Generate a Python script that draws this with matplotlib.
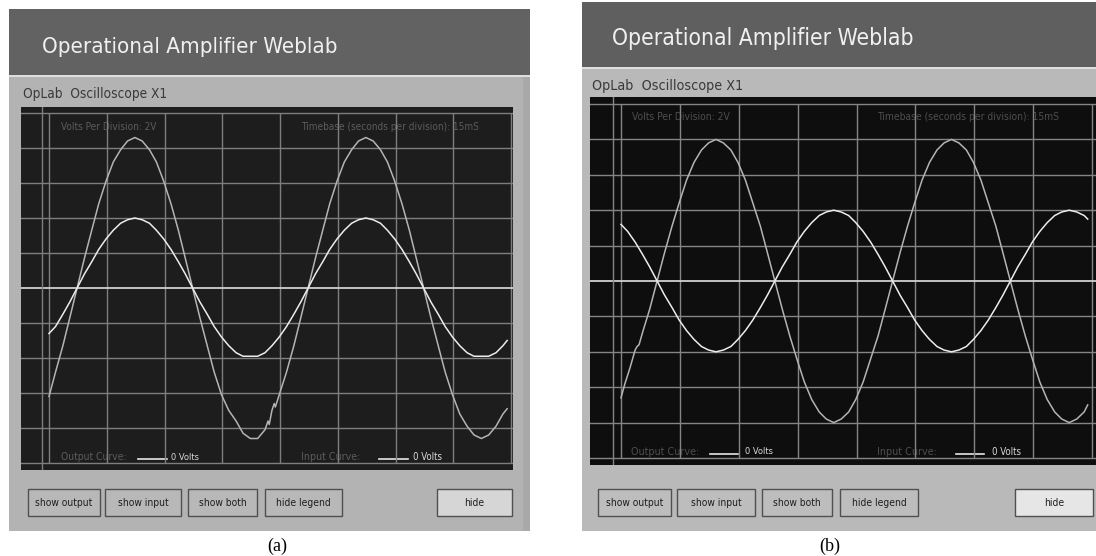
import os
import numpy as np
import matplotlib
matplotlib.use('Agg')
import matplotlib.pyplot as plt
from matplotlib.patches import Rectangle
from matplotlib import font_manager
from matplotlib.font_manager import FontProperties

# Oscilloscope traces (time in ms, 15 ms/div; volts, 2 V/div)

# (a) non-inverting amplifier
ta_in = [0, 1.7, 3.6, 5.4, 7.3, 9.2, 11.1, 12.9, 14.8, 16.7, 18.6, 20.4, 22.3, 24.2,
         26.1, 27.9, 29.8, 31.7, 33.6, 35.4, 37.3, 39.2, 41.1, 42.9, 44.8, 46.7, 48.6,
         50.4, 52.3, 54.2, 56.1, 57.9, 59.8, 61.7, 63.6, 65.4, 67.3, 69.2, 71.1, 72.9,
         74.8, 76.7, 78.6, 80.4, 82.3, 84.2, 86.1, 87.9, 89.8, 91.7, 93.6, 95.4, 97.3,
         99.2, 101.1, 102.9, 104.8, 106.7, 108.6, 110.4, 112.3, 114.2, 116.1, 117.9, 119.0]
va_in = [-2.6, -2.2, -1.5, -0.8, 0.0, 0.8, 1.5, 2.2, 2.8, 3.3, 3.7, 3.9, 4.0, 3.9,
         3.7, 3.3, 2.8, 2.2, 1.5, 0.8, 0.0, -0.8, -1.5, -2.2, -2.8, -3.3, -3.7,
         -3.9, -3.9, -3.9, -3.7, -3.3, -2.8, -2.2, -1.5, -0.8, 0.0, 0.8, 1.5, 2.2,
         2.8, 3.3, 3.7, 3.9, 4.0, 3.9, 3.7, 3.3, 2.8, 2.2, 1.5, 0.8, 0.0,
         -0.8, -1.5, -2.2, -2.8, -3.3, -3.7, -3.9, -3.9, -3.9, -3.7, -3.3, -3.0]
ta_out = [0, 1.7, 3.6, 5.4, 7.3, 9.2, 11.1, 12.9, 14.8, 16.7, 18.6, 20.4, 22.3, 24.2,
          26.1, 27.9, 29.8, 31.7, 33.6, 35.4, 37.3, 39.2, 41.1, 42.9, 44.8, 46.7, 48.6,
          50.4, 52.3, 54.2, 56.1, 56.9, 57.2, 57.9, 58.5, 58.8, 59.8, 61.7, 63.6, 65.4,
          67.3, 69.2, 71.1, 72.9, 74.8, 76.7, 78.6, 80.4, 82.3, 84.2, 86.1, 87.9, 89.8,
          91.7, 93.6, 95.4, 97.3, 99.2, 101.1, 102.9, 104.8, 106.7, 108.6, 110.4, 112.3,
          114.2, 116.1, 117.9, 119.0]
va_out = [-6.2, -4.8, -3.3, -1.7, 0.0, 1.7, 3.3, 4.8, 6.1, 7.2, 7.9, 8.4, 8.6, 8.4,
          7.9, 7.2, 6.1, 4.8, 3.3, 1.7, 0.0, -1.7, -3.3, -4.8, -6.1, -7.0, -7.6,
          -8.3, -8.6, -8.6, -8.1, -7.6, -7.8, -7.0, -6.6, -6.8, -6.1, -4.8, -3.3, -1.7,
          0.0, 1.7, 3.3, 4.8, 6.1, 7.2, 7.9, 8.4, 8.6, 8.4, 7.9, 7.2, 6.1,
          4.8, 3.3, 1.7, 0.0, -1.7, -3.3, -4.8, -6.1, -7.2, -7.9, -8.4, -8.6,
          -8.4, -7.9, -7.2, -6.9]

# (b) inverting amplifier
tb_in = [0, 1.7, 3.6, 5.5, 7.3, 9.2, 11.1, 13.0, 14.8, 16.7, 18.6, 20.5, 22.3, 24.2,
         26.1, 28.0, 29.8, 31.7, 33.6, 35.5, 37.3, 39.2, 41.1, 43.0, 44.8, 46.7, 48.6,
         50.5, 52.3, 54.2, 56.1, 58.0, 59.8, 61.7, 63.6, 65.5, 67.3, 69.2, 71.1, 73.0,
         74.8, 76.7, 78.6, 80.5, 82.3, 84.2, 86.1, 88.0, 89.8, 91.7, 93.6, 95.5, 97.3,
         99.2, 101.1, 103.0, 104.8, 106.7, 108.6, 110.5, 112.3, 114.2, 116.1, 118.0, 118.9]
vb_in = [3.2, 2.8, 2.2, 1.5, 0.8, 0.0, -0.8, -1.5, -2.2, -2.8, -3.3, -3.7, -3.9, -4.0,
         -3.9, -3.7, -3.3, -2.8, -2.2, -1.5, -0.8, 0.0, 0.8, 1.5, 2.2, 2.8, 3.3,
         3.7, 3.9, 4.0, 3.9, 3.7, 3.3, 2.8, 2.2, 1.5, 0.8, 0.0, -0.8, -1.5,
         -2.2, -2.8, -3.3, -3.7, -3.9, -4.0, -3.9, -3.7, -3.3, -2.8, -2.2, -1.5, -0.8,
         0.0, 0.8, 1.5, 2.2, 2.8, 3.3, 3.7, 3.9, 4.0, 3.9, 3.7, 3.5]
tb_out = [0, 1.0, 2.3, 3.6, 4.1, 4.6, 5.5, 7.3, 9.2, 11.1, 13.0, 14.8, 16.7, 18.6, 20.5,
          22.3, 24.2, 26.1, 28.0, 29.8, 31.7, 33.6, 35.5, 37.3, 39.2, 41.1, 43.0, 44.8,
          46.7, 48.6, 50.5, 52.3, 54.2, 56.1, 58.0, 59.8, 61.7, 63.6, 65.5, 67.3, 69.2,
          71.1, 73.0, 74.8, 76.7, 78.6, 80.5, 82.3, 84.2, 86.1, 88.0, 89.8, 91.7, 93.6,
          95.5, 97.3, 99.2, 101.1, 103.0, 104.8, 106.7, 108.6, 110.5, 112.3, 114.2,
          116.1, 118.0, 118.9]
vb_out = [-6.6, -5.8, -4.9, -3.9, -3.7, -3.6, -2.9, -1.6, 0.0, 1.6, 3.1, 4.4, 5.7, 6.7,
          7.4, 7.8, 8.0, 7.8, 7.4, 6.7, 5.7, 4.4, 3.1, 1.6, 0.0, -1.6, -3.1, -4.4,
          -5.7, -6.7, -7.4, -7.8, -8.0, -7.8, -7.4, -6.7, -5.7, -4.4, -3.1, -1.6, 0.0,
          1.6, 3.1, 4.4, 5.7, 6.7, 7.4, 7.8, 8.0, 7.8, 7.4, 6.7, 5.7, 4.4,
          3.1, 1.6, 0.0, -1.6, -3.1, -4.4, -5.7, -6.7, -7.4, -7.8, -8.0,
          -7.8, -7.4, -7.0]

title = "Operational Amplifier Weblab"
subtitle = "OpLab  Oscilloscope X1"
vpd_text = "Volts Per Division: 2V"
tb_text = "Timebase (seconds per division): 15mS"
out_lbl = "Output Curve:"
in_lbl = "Input Curve:"
zero_lbl = "0 Volts"
buttons = ["show output", "show input", "show both", "hide legend", "hide"]
captions = ["(a)", "(b)"]

# a narrow face looks closest to the Tahoma of the screenshot
files = {os.path.basename(f.fname): f.fname for f in font_manager.fontManager.ttflist}
NARROW = FontProperties(family='Liberation Sans')
for cand in ['LiberationSansNarrow-Regular.ttf', 'DejaVuSansCondensed.ttf',
             'RobotoCondensed-Regular.ttf', 'Roboto-Regular.ttf']:
    if cand in files:
        NARROW = FontProperties(fname=files[cand])
        break
SANS = FontProperties(family='Liberation Sans')
SERIF = 'Liberation Serif'

W, H = 1096, 556
fig = plt.figure(figsize=(W / 100, H / 100), dpi=100)
fig.patch.set_facecolor('white')
bg = fig.add_axes([0, 0, 1, 1])
bg.set_xlim(0, W)
bg.set_ylim(H, 0)
bg.axis('off')
rend = fig.canvas.get_renderer()


def fit(x0, x1, y, s, color, fp, va='center', z=5):
    # scale font so the text spans x0..x1 pixels
    t = bg.text(x0, y, s, fontproperties=fp.copy(), color=color, va=va, ha='left', zorder=z)
    t.set_fontsize(10)
    w = t.get_window_extent(rend).width
    t.set_fontsize(10 * (x1 - x0) / w)
    return t


def rect(x0, y0, x1, y1, fc, ec='none', lw=0, z=1):
    bg.add_patch(Rectangle((x0, y0), x1 - x0, y1 - y0, facecolor=fc, edgecolor=ec, lw=lw, zorder=z))


def panel(px0, px1, hy0, hy1, py1, hcol, pcol, tx, sub):
    rect(px0, hy0, px1, hy1, hcol)
    rect(px0, hy1, px1, hy1 + 2, '#dedede')
    rect(px0, hy1 + 2, px1, py1, pcol)
    fit(tx[0], tx[1], hy1 - 22, title, '#f0f0f0', NARROW, va='baseline')
    fit(sub[0], sub[1], hy1 + 19, subtitle, '#3a3a3a', NARROW)


def scope(black, grid, extra_x, bgc, gridc, t_in, v_in, t_out, v_out):
    bx0, by0, bx1, by1 = black
    gx0, gy0, gx1, gy1 = grid
    rect(bx0, by0, bx1, by1, bgc)
    ax = fig.add_axes([bx0 / W, 1 - by1 / H, (bx1 - bx0) / W, (by1 - by0) / H])
    ax.patch.set_alpha(0)
    kx = 120 / (gx1 - gx0)
    ky = 20 / (gy1 - gy0)
    yc = (gy0 + gy1) / 2
    ax.set_xlim(-(gx0 - bx0) * kx, 120 + (bx1 - gx1) * kx)
    ax.set_ylim(-(by1 - yc) * ky, (yc - by0) * ky)
    ax.axis('off')
    ax.vlines(np.arange(0, 121, 15), -10, 10, color=gridc, lw=1)
    for v in range(-10, 11, 2):
        if v == 0:
            ax.axhline(v, color='#d0d0d0', lw=1.3)
        else:
            ax.axhline(v, color=gridc, lw=1)
    ax.axvline((extra_x - gx0) * kx, color=gridc, lw=1)
    ax.plot(t_out, v_out, color='#b4b4b4', lw=1.1)
    ax.plot(t_in, v_in, color='#ececec', lw=1.1)
    return ax


def legend_row(y, c1, line1, z1, c3, line2, z2, col):
    fit(c1[0], c1[1], y, out_lbl, col, NARROW)
    bg.plot(line1, [y + 2, y + 2], color='#e6e6e6', lw=1.2, zorder=5)
    fit(z1[0], z1[1], y, zero_lbl, '#d8d8d8', NARROW)
    fit(c3[0], c3[1], y, in_lbl, col, NARROW)
    bg.plot(line2, [y + 2, y + 2], color='#e6e6e6', lw=1.2, zorder=5)
    fit(z2[0], z2[1], y, zero_lbl, '#d8d8d8', NARROW)


def button_row(spans, y0, y1, fc, hide_fc):
    probe = fit(0, 57, -50, buttons[0], 'k', NARROW)
    fs = probe.get_fontsize()
    probe.remove()
    for (x0, x1), lab in zip(spans, buttons):
        rect(x0, y0, x1, y1, hide_fc if lab == 'hide' else fc, ec='#505050', lw=1, z=3)
        t = bg.text((x0 + x1) / 2, (y0 + y1) / 2 + 1, lab, fontproperties=NARROW.copy(),
                    color='#1e1e1e', ha='center', va='center', zorder=4)
        t.set_fontsize(fs)


# ---- (a) ----
panel(9, 530, 9, 75, 531, '#626262', '#b3b3b3', (42, 337), (23, 167))
rect(523, 77, 530, 531, '#a9a9a9')
scope((21, 107, 513, 470), (49, 113, 511, 463), 42, '#1d1d1d', '#7e7e7e',
      ta_in, va_in, ta_out, va_out)
fit(61, 156, 127, vpd_text, '#5c5c5c', NARROW)
fit(301, 478, 127, tb_text, '#5c5c5c', NARROW)
legend_row(457, (61, 127), (138, 167), (171, 199), (301, 360), (379, 408), (413, 442), '#5c5c5c')
button_row([(28, 100), (105, 181), (188, 257), (265, 342), (437, 512)], 489, 516,
           '#b8b8b8', '#d6d6d6')
bg.text(277, 546, captions[0], fontsize=13, family=SERIF, ha='center', va='center', color='k')

# ---- (b) ----
panel(582, 1100, 2, 67, 531, '#5f5f5f', '#b9b9b9', (612, 914), (592, 742))
scope((590, 97, 1100, 465), (621, 104, 1092, 458), 613, '#0e0e0e', '#858585',
      tb_in, vb_in, tb_out, vb_out)
fit(632, 729, 117, vpd_text, '#4e4e4e', NARROW)
fit(877, 1058, 117, tb_text, '#4e4e4e', NARROW)
legend_row(452, (631, 700), (710, 738), (745, 773), (877, 937), (956, 984), (992, 1021), '#4e4e4e')
button_row([(598, 671), (677, 755), (762, 832), (840, 918), (1015, 1093)], 489, 516,
           '#bdbdbd', '#e6e6e6')
bg.text(830, 546, captions[1], fontsize=13, family=SERIF, ha='center', va='center', color='k')

fig.savefig('out.png', dpi=100, facecolor='white')
